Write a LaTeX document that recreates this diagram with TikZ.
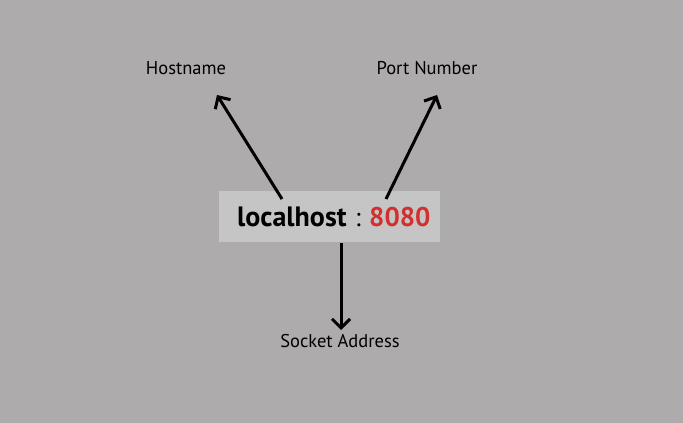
\documentclass[tikz,border=0pt]{standalone}
\usepackage{fontspec}
\setmainfont{PT Sans}
\usetikzlibrary{arrows.meta}
\definecolor{bg}{HTML}{ADABAC}
\definecolor{boxc}{HTML}{C5C5C5}
\definecolor{numred}{HTML}{D32F2F}
\tikzset{
  lbl/.style={font=\fontsize{18.5}{20}\selectfont, text=black, inner sep=0pt},
  arr/.style={line width=3pt, -{Straight Barb[length=9pt,width=18pt,line width=3pt]}}
}
\begin{document}
\begin{tikzpicture}[x=1pt,y=-1pt]
\fill[bg] (0,0) rectangle (683,423);
\useasboundingbox (0,0) rectangle (683,423);
\node[fill=boxc, minimum width=221pt, minimum height=51pt, inner sep=0pt] (box) at (329.5,216.5) {};
\node[anchor=base west, inner sep=0pt, font=\bfseries\fontsize{28}{30}\selectfont] (lh) at (237,226) {localhost};
\node[anchor=base west, inner sep=0pt, font=\fontsize{26}{28}\selectfont] (colon) at (355,226) {:};
\node[anchor=base west, inner sep=0pt, text=numred, font=\bfseries\fontsize{27}{30}\selectfont] (num) at (369,226) {8080};
\node[lbl] (host) at (186,68) {Hostname};
\node[lbl] (port) at (427,68) {Port Number};
\node[lbl] (sock) at (340,341) {Socket Address};
\coordinate (hs) at (282,199);
\coordinate (he) at (217,95);
\coordinate (ps) at (386,199);
\coordinate (pe) at (437,95);
\coordinate (ss) at (341,243);
\coordinate (se) at (341,330);
\draw[arr] (hs) -- (he);
\draw[arr] (ps) -- (pe);
\draw[arr] (ss) -- (se);
\end{tikzpicture}
\end{document}
